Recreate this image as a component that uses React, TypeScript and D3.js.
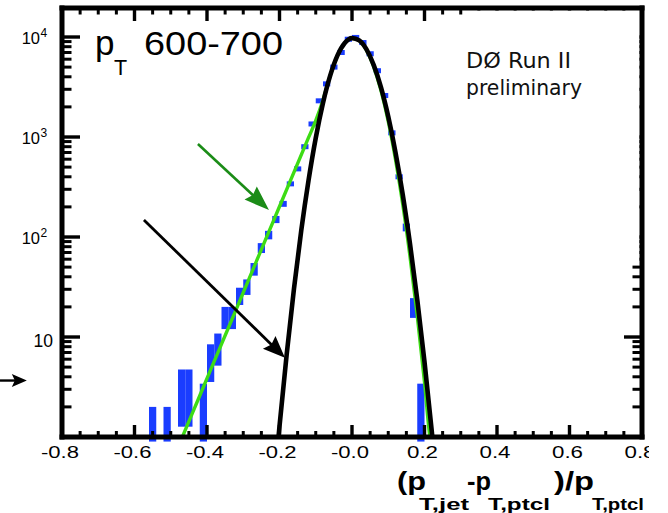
import React, { useEffect, useRef } from "react";
import * as d3 from "d3";

const W = 668;
const H = 513;

const BIN_WIDTH = 0.02;
const binCenters = [
  -0.55, -0.53, -0.51, -0.49, -0.47, -0.45, -0.43, -0.41, -0.39, -0.37,
  -0.35, -0.33, -0.31, -0.29, -0.27, -0.25, -0.23, -0.21, -0.19, -0.17,
  -0.15, -0.13, -0.11, -0.09, -0.07, -0.05, -0.03, -0.01, 0.01, 0.03,
  0.05, 0.07, 0.09, 0.11, 0.13, 0.15, 0.17, 0.19,
];
const binCounts = [
  1, 0, 1, 0, 3, 3, 0, 2, 6, 8,
  16, 16, 26, 32, 48, 78, 105, 150, 215, 340,
  480, 800, 1350, 2300, 3400, 5000, 7000, 9500, 9900, 8800,
  6800, 4600, 2600, 1100, 400, 125, 20, 2,
];

const blackX = [
  -0.21, -0.2, -0.18, -0.16, -0.14, -0.12, -0.1, -0.08, -0.06, -0.04, -0.02, 0.0,
  0.02, 0.04, 0.06, 0.08, 0.1, 0.12, 0.14, 0.16, 0.18, 0.2, 0.22, 0.23,
];
const blackY = [
  0.52, 1.28, 6.8, 30.6, 116, 366, 977, 2190, 4130, 6550, 8710, 9750,
  9250, 7520, 5240, 3130, 1600, 703, 265, 85.5, 23.7, 5.64, 1.15, 0.49,
];

const greenX = [
  -0.48, -0.44, -0.4, -0.36, -0.32, -0.28, -0.24, -0.2, -0.16, -0.12, -0.1, -0.08,
  -0.06, -0.04, -0.02, 0.0, 0.02, 0.04, 0.06, 0.08, 0.1, 0.12, 0.14, 0.16, 0.18,
  0.2, 0.215, 0.22,
];
const greenY = [
  0.79, 1.74, 3.85, 8.5, 18.7, 41.4, 91.4, 202, 446, 984, 1460, 2350,
  4130, 6550, 8710, 9750, 9205, 7396, 5035, 2911, 1432, 597, 212, 63.8, 16.3,
  3.55, 1.0, 0.8,
];

const xTicks = [-0.8, -0.6, -0.4, -0.2, 0, 0.2, 0.4, 0.6, 0.8];
const xTickLabels = ["-0.8", "-0.6", "-0.4", "-0.2", "-0.0", "0.2", "0.4", "0.6", "0.8"];
const yMajorTicks = [10, 100, 1000, 10000];
const yExponents = ["1", "2", "3", "4"];

const greenArrow = [-0.425, 851, -0.229, 186];
const blackArrow = [-0.574, 148, -0.185, 6.2];
const sideArrow = [-0.971, 3.67, -0.897, 3.67];

const L = 62, R = 642, T = 8, B = 437;

const x = d3.scaleLinear().domain([-0.8, 0.8]).range([L, R]);
const y = d3.scaleLog().domain([1, 19500]).range([B, T]);

const BLUE = "#1a3dff";
const LIME = "#3ddc14";
const DARKGREEN = "#1b8c17";
const FONT = "'Liberation Sans', Arial, Helvetica, sans-serif";

function arrow(a: number[], color: string, sw: number, headLen: number, headHalf: number) {
  const x0 = x(a[0]), y0 = y(a[1]), x1 = x(a[2]), y1 = y(a[3]);
  const dx = x1 - x0, dy = y1 - y0;
  const n = Math.hypot(dx, dy);
  const ux = dx / n, uy = dy / n;
  const bx = x1 - ux * headLen, by = y1 - uy * headLen;
  const pts = [
    [x1, y1],
    [bx - uy * headHalf, by + ux * headHalf],
    [bx + ux * 3, by + uy * 3],
    [bx + uy * headHalf, by - ux * headHalf],
  ];
  return (
    <g>
      <line x1={x0} y1={y0} x2={bx + ux * 4} y2={by + uy * 4} stroke={color} strokeWidth={sw} />
      <polygon points={pts.map((p) => p.join(",")).join(" ")} fill={color} />
    </g>
  );
}

// diagonal-free tick polygon: a thin filled quadrilateral
function tickPoly(x0: number, y0: number, x1: number, y1: number, w: number) {
  const dx = x1 - x0, dy = y1 - y0;
  const n = Math.hypot(dx, dy) || 1;
  const px = (-dy / n) * (w / 2), py = (dx / n) * (w / 2);
  return `${x0 + px},${y0 + py} ${x1 + px},${y1 + py} ${x1 - px},${y1 - py} ${x0 - px},${y0 - py}`;
}

export default function App() {
  const line = d3
    .line<[number, number]>()
    .x((d) => x(d[0]))
    .y((d) => y(d[1]))
    .curve(d3.curveMonotoneX);

  const blackPath = line(blackX.map((v, i) => [v, blackY[i]] as [number, number])) || "";
  const greenPath = line(greenX.map((v, i) => [v, greenY[i]] as [number, number])) || "";

  const bars = binCenters
    .map((c, i) => {
      const n = binCounts[i];
      if (n <= 0) return null;
      const lo = Math.max(n - Math.sqrt(n), 0.9);
      const hi = n + Math.sqrt(n);
      let y0 = y(hi);
      let y1 = y(lo);
      if (y1 - y0 < 5) {
        const yc = y(n);
        y0 = yc - 2.5;
        y1 = yc + 2.5;
      }
      const x0 = x(c - BIN_WIDTH / 2);
      const w = x(c + BIN_WIDTH / 2) - x0;
      return <rect key={i} x={x0} y={y0} width={w} height={y1 - y0} fill={BLUE} />;
    })
    .filter(Boolean);

  const xMinor: number[] = [];
  for (let k = -16; k <= 16; k++) if (k % 4 !== 0) xMinor.push(k * 0.05);
  const yMinor: number[] = [];
  for (let dec = 1; dec <= 10000; dec *= 10)
    for (let m = 2; m <= 9; m++) if (dec * m < 19500) yMinor.push(dec * m);

  const polys: string[] = [];
  xTicks.forEach((t) => {
    polys.push(tickPoly(x(t), B + 2, x(t), B - 12, 3.4));
    polys.push(tickPoly(x(t), T - 2, x(t), T + 13, 3.4));
  });
  xMinor.forEach((t) => {
    polys.push(tickPoly(x(t), B + 2, x(t), B - 6, 3));
    polys.push(tickPoly(x(t), T - 2, x(t), T + 6.5, 3));
  });
  yMajorTicks.forEach((t) => {
    polys.push(tickPoly(L - 2, y(t), L + 18, y(t), 3.4));
    polys.push(tickPoly(R + 2, y(t), R - 18, y(t), 3.4));
  });
  yMinor.forEach((t) => {
    polys.push(tickPoly(L - 2, y(t), L + 9.5, y(t), 3));
    polys.push(tickPoly(R + 2, y(t), R - 9.5, y(t), 3));
  });

  // frame as four filled bands
  const fw = 5;
  const frameBands = [
    tickPoly(L - fw / 2, T, R + fw / 2, T, fw),
    tickPoly(L - fw / 2, B, R + fw / 2, B, fw),
    tickPoly(L, T - fw / 2, L, B + fw / 2, fw),
    tickPoly(R, T - fw / 2, R, B + fw / 2, fw),
  ];

  return (
    <svg
      width={W}
      height={H}
      viewBox={`0 0 ${W} ${H}`}
      style={{ position: "absolute", left: 0, top: 0, background: "#ffffff" }}
    >
      {/* histogram */}
      <svg x={L} y={T} width={R - L} height={B - T + 5} overflow="hidden">
        <g transform={`translate(${-L},${-T})`}>{bars}</g>
      </svg>

      {/* fits */}
      <svg x={L} y={T} width={R - L} height={B - T} overflow="hidden">
        <g transform={`translate(${-L},${-T})`}>
          <path d={greenPath} fill="none" stroke={LIME} strokeWidth={3.4} />
          <path d={blackPath} fill="none" stroke="#000" strokeWidth={4.6} />
        </g>
      </svg>

      {/* ticks */}
      {polys.map((p, i) => (
        <polygon key={"tk" + i} points={p} fill="#000000" />
      ))}

      {/* white patch behind the experiment label (hides ticks) */}
      <polygon points={`470,${T + 2.5} ${R - 2.5},${T + 2.5} ${R - 2.5},263 470,263`} fill="#ffffff" />

      {/* frame */}
      {frameBands.map((p, i) => (
        <polygon key={"fr" + i} points={p} fill="#000000" />
      ))}

      {/* arrows */}
      {arrow(greenArrow, DARKGREEN, 2.6, 25, 9)}
      {arrow(blackArrow, "#000", 2.8, 22, 9)}
      {arrow(sideArrow, "#000", 2.4, 15, 6.5)}

      {/* x tick labels */}
      <g fontFamily={FONT} fontSize={16} fill="#000">
        {xTicks.map((t, i) => {
          const lab = xTickLabels[i];
          const len = lab.length === 4 ? 38 : 31;
          return (
            <text
              key={"xl" + i}
              x={x(t) - 2}
              y={458}
              textAnchor="middle"
              textLength={len}
              lengthAdjust="spacingAndGlyphs"
            >
              {lab}
            </text>
          );
        })}
      </g>

      {/* y tick labels */}
      <g fontFamily={FONT} fill="#000">
        {yMajorTicks.map((t, i) =>
          t === 10 ? (
            <text key={"yl" + i} x={53} y={y(t) + 9.5} fontSize={17.5} textAnchor="end">
              10
            </text>
          ) : (
            <g key={"yl" + i}>
              <text x={40} y={y(t) + 6.5} fontSize={16.5} textAnchor="end">
                10
              </text>
              <text x={40.5} y={y(t) - 0.5} fontSize={12}>
                {yExponents[i]}
              </text>
            </g>
          )
        )}
      </g>

      {/* title */}
      <g fontFamily={FONT} fill="#000">
        <text x={95} y={55} fontSize={35}>p</text>
        <text x={114} y={75} fontSize={21.5}>T</text>
        <text x={144} y={55} fontSize={32.5} textLength={139} lengthAdjust="spacingAndGlyphs">
          600-700
        </text>
      </g>

      {/* experiment label */}
      <g fontFamily="'DejaVu Sans', sans-serif" fill="#111" fontSize={20.5}>
        <text x={466} y={68} textLength={105} lengthAdjust="spacingAndGlyphs">DØ Run II</text>
        <text x={466} y={95} textLength={116} lengthAdjust="spacingAndGlyphs">preliminary</text>
      </g>

      {/* x axis title */}
      <g fontFamily={FONT} fontWeight="bold" fill="#000">
        <text x={397} y={490} fontSize={26} textLength={29} lengthAdjust="spacingAndGlyphs">(p</text>
        <text x={419} y={510} fontSize={17} textLength={50} lengthAdjust="spacingAndGlyphs">T,jet</text>
        <text x={467} y={490} fontSize={26} textLength={24} lengthAdjust="spacingAndGlyphs">-p</text>
        <text x={488} y={510} fontSize={17} textLength={62} lengthAdjust="spacingAndGlyphs">T,ptcl</text>
        <text x={554} y={490} fontSize={26} textLength={40} lengthAdjust="spacingAndGlyphs">)/p</text>
        <text x={592} y={510} fontSize={17} textLength={52} lengthAdjust="spacingAndGlyphs">T,ptcl</text>
      </g>

      {/* the pasted image ends here */}
      <polygon points={`649,0 ${W},0 ${W},${H} 649,${H}`} fill="#ffffff" />
    </svg>
  );
}
